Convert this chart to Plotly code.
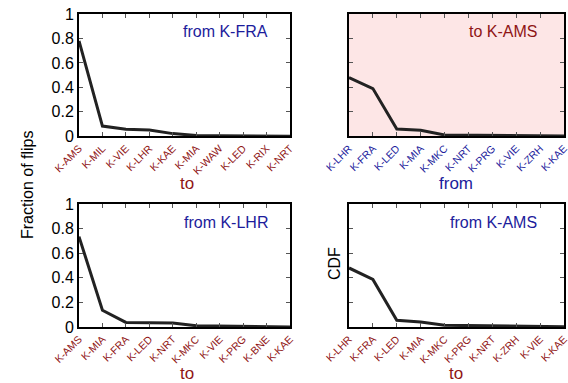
import plotly.graph_objects as go

# ---- data ----
fra_to_labels = ["K-AMS", "K-MIL", "K-VIE", "K-LHR", "K-KAE", "K-MIA", "K-WAW", "K-LED", "K-RIX", "K-NRT"]
fra_to_vals = [0.78, 0.084, 0.057, 0.052, 0.022, 0.006, 0.004, 0.003, 0.002, 0.001]

ams_from_labels = ["K-LHR", "K-FRA", "K-LED", "K-MIA", "K-MKC", "K-NRT", "K-PRG", "K-VIE", "K-ZRH", "K-KAE"]
ams_from_vals = [0.48, 0.39, 0.06, 0.05, 0.01, 0.008, 0.006, 0.005, 0.004, 0.003]

lhr_to_labels = ["K-AMS", "K-MIA", "K-FRA", "K-LED", "K-NRT", "K-MKC", "K-VIE", "K-PRG", "K-BNE", "K-KAE"]
lhr_to_vals = [0.735, 0.136, 0.037, 0.035, 0.033, 0.01, 0.008, 0.006, 0.002, 0.001]

ams_to_labels = ["K-LHR", "K-FRA", "K-LED", "K-MIA", "K-MKC", "K-PRG", "K-NRT", "K-ZRH", "K-VIE", "K-KAE"]
ams_to_vals = [0.48, 0.386, 0.054, 0.04, 0.014, 0.012, 0.01, 0.005, 0.003, 0.002]

y_ticks = [0, 0.2, 0.4, 0.6, 0.8, 1]

RED = "#8f1515"
BLUE = "#1c1c9c"
FONT = "Liberation Sans, Arial, sans-serif"
W, H = 568, 383

def px(x):
    return x / W

def py(y):
    return 1 - y / H

panels = [
    (fra_to_labels, fra_to_vals, "x", "y"),
    (ams_from_labels, ams_from_vals, "x2", "y2"),
    (lhr_to_labels, lhr_to_vals, "x3", "y3"),
    (ams_to_labels, ams_to_vals, "x4", "y4"),
]

fig = go.Figure()
for labels, vals, xa, ya in panels:
    fig.add_trace(go.Scatter(x=labels, y=vals, mode="lines", xaxis=xa, yaxis=ya,
                             line=dict(color="#222222", width=3), showlegend=False,
                             hoverinfo="skip"))

xdom_l = [px(79), px(290)]
xdom_r = [px(349), px(564)]
ydom_t = [py(136.3), py(14)]
ydom_b = [py(327), py(204)]

def xaxis(dom, anchor, col):
    return dict(domain=dom, anchor=anchor, type="category", range=[0, 9],
                showline=True, linecolor="black", linewidth=2, mirror="ticks",
                ticks="inside", ticklen=4, tickcolor="#555555", tickwidth=1,
                tickangle=-45, tickfont=dict(size=10.5, color=col, family=FONT),
                showgrid=False, zeroline=False, fixedrange=True, automargin=False)

def yaxis(dom, anchor, show):
    return dict(domain=dom, anchor=anchor, range=[0, 1], tickvals=y_ticks,
                showline=True, linecolor="black", linewidth=2, mirror="ticks",
                ticks="inside", ticklen=4, tickcolor="#555555", tickwidth=1,
                showticklabels=show, tickfont=dict(size=16, color="black", family=FONT),
                showgrid=False, zeroline=False, fixedrange=True, automargin=False)

fig.update_layout(
    width=W, height=H,
    margin=dict(l=0, r=0, t=0, b=0),
    paper_bgcolor="white", plot_bgcolor="white",
    font=dict(family=FONT),
    xaxis=xaxis(xdom_l, "y", RED),
    yaxis=yaxis(ydom_t, "x", True),
    xaxis2=xaxis(xdom_r, "y2", BLUE),
    yaxis2=yaxis(ydom_t, "x2", False),
    xaxis3=xaxis(xdom_l, "y3", RED),
    yaxis3=yaxis(ydom_b, "x3", True),
    xaxis4=xaxis(xdom_r, "y4", RED),
    yaxis4=yaxis(ydom_b, "x4", False),
)

fig.add_shape(type="rect", xref="x2 domain", yref="y2 domain", x0=0, x1=1, y0=0, y1=1,
              fillcolor="#fde6e6", line=dict(width=0), layer="below")

ann = [
    ("from K-FRA", 270, 32, BLUE, 16, "right", 0),
    ("to K-AMS", 539, 32, RED, 16, "right", 0),
    ("from K-LHR", 270, 222, BLUE, 16, "right", 0),
    ("from K-AMS", 539, 222, BLUE, 16, "right", 0),
    ("to", 187, 183, RED, 17, "center", 0),
    ("from", 456, 183, BLUE, 17, "center", 0),
    ("to", 187, 373, RED, 17, "center", 0),
    ("to", 456, 373, RED, 17, "center", 0),
    ("Fraction of flips", 27, 185, "black", 16, "center", -90),
    ("CDF", 334, 264, "black", 16, "center", -90),
]
for text, x, y, col, size, xanchor, ang in ann:
    fig.add_annotation(text=text, x=px(x), y=py(y), xref="paper", yref="paper",
                       xanchor=xanchor, yanchor="middle", showarrow=False, textangle=ang,
                       font=dict(size=size, color=col, family=FONT))

fig.write_html("out.html")
